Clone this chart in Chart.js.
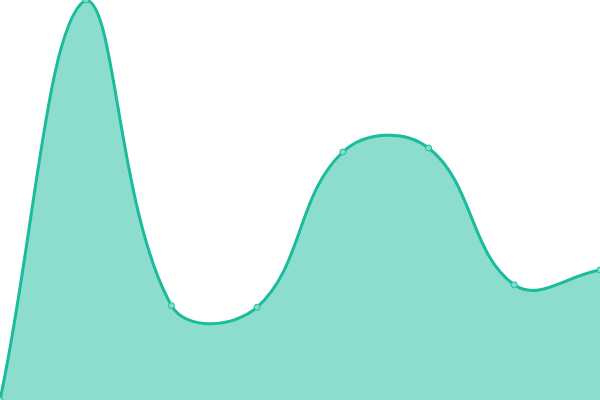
<!DOCTYPE html>
<html>
<head>
<meta charset="utf-8">
<script src="https://cdn.jsdelivr.net/npm/chart.js@4"></script>
<style>
  html, body { margin: 0; padding: 0; background: #fff; }
  #wrap { width: 600px; height: 400px; }
</style>
</head>
<body>
<div id="wrap"><canvas id="areaChart" width="600" height="400"></canvas></div>
<script>
// values
const labels = ['1', '2', '3', '4', '5', '6', '7', '8'];
const values = [0, 100, 23.6, 23.2, 62, 63, 28.8, 32.5];

const area_profile = {
  labels: labels,
  datasets: [{
    label: 'Series',
    data: values,
    fill: 'origin',
    backgroundColor: 'rgba(26, 188, 156, 0.5)',
    borderColor: 'rgb(26, 188, 156)',
    borderWidth: 3,
    tension: 0.4,
    pointRadius: 3,
    pointBorderWidth: 1,
    pointBackgroundColor: 'rgb(130, 222, 204)',
    pointBorderColor: 'rgb(26, 188, 156)'
  }]
};

const area_config = {
  type: 'line',
  data: area_profile,
  options: {
    responsive: false,
    animation: false,
    layout: { padding: 0, autoPadding: false },
    plugins: {
      legend: { display: false },
      tooltip: { enabled: false }
    },
    scales: {
      x: { display: false },
      y: { display: false, min: 0, max: 100 }
    }
  }
};
const areaChart = new Chart(document.getElementById('areaChart'), area_config);
</script>
</body>
</html>
